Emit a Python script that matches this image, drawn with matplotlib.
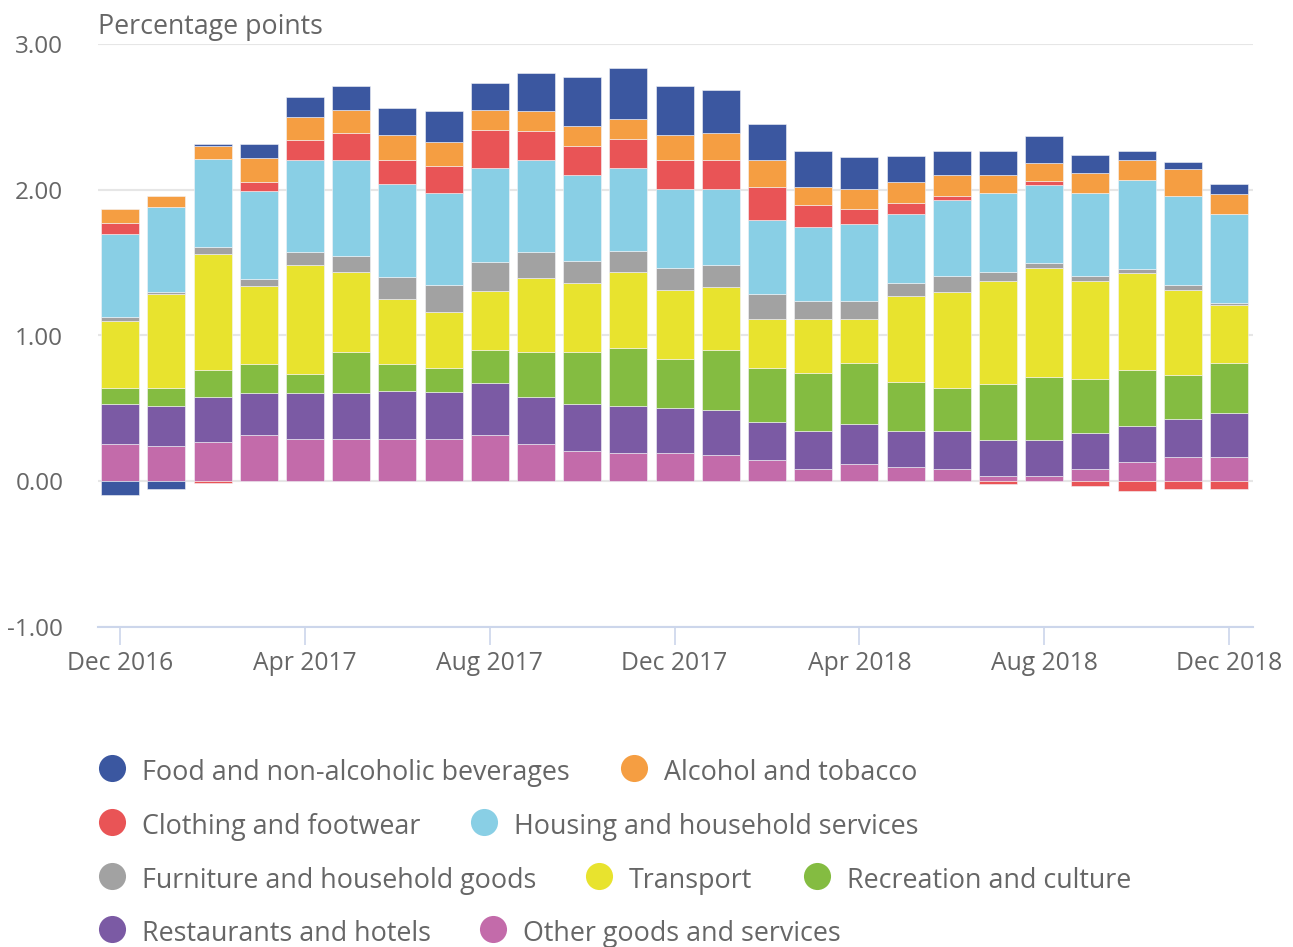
import matplotlib.pyplot as plt
import numpy as np

plt.rcParams['font.family'] = ['Open Sans', 'DejaVu Sans']

months = ['Dec 2016', 'Jan 2017', 'Feb 2017', 'Mar 2017', 'Apr 2017', 'May 2017',
          'Jun 2017', 'Jul 2017', 'Aug 2017', 'Sep 2017', 'Oct 2017', 'Nov 2017',
          'Dec 2017', 'Jan 2018', 'Feb 2018', 'Mar 2018', 'Apr 2018', 'May 2018',
          'Jun 2018', 'Jul 2018', 'Aug 2018', 'Sep 2018', 'Oct 2018', 'Nov 2018',
          'Dec 2018']

names = ['Food and non-alcoholic beverages', 'Alcohol and tobacco',
         'Clothing and footwear', 'Housing and household services',
         'Furniture and household goods', 'Transport', 'Recreation and culture',
         'Restaurants and hotels', 'Other goods and services']

colors = ['#3b57a0', '#f59e42', '#e95456', '#89cfe5', '#a2a2a2',
          '#e8e32e', '#84bc41', '#7b5aa4', '#c36baa']

food = [-0.096, -0.05, 0.016, 0.092, 0.137, 0.164, 0.185, 0.215, 0.185, 0.26, 0.338, 0.354,
        0.336, 0.292, 0.244, 0.247, 0.215, 0.18, 0.169, 0.171, 0.185, 0.123, 0.062, 0.046, 0.064]
alcohol = [0.091, 0.075, 0.092, 0.167, 0.158, 0.158, 0.171, 0.168, 0.139, 0.139, 0.137, 0.139,
           0.171, 0.185, 0.185, 0.123, 0.139, 0.14, 0.139, 0.123, 0.123, 0.137, 0.137, 0.185, 0.139]
clothing = [0.077, 0.0, -0.015, 0.062, 0.137, 0.185, 0.167, 0.185, 0.258, 0.198, 0.201, 0.196,
            0.199, 0.199, 0.228, 0.153, 0.107, 0.075, 0.03, -0.02, 0.03, -0.03, -0.068, -0.05, -0.05]
housing = [0.568, 0.586, 0.601, 0.601, 0.63, 0.664, 0.633, 0.63, 0.646, 0.63, 0.584, 0.571,
           0.539, 0.523, 0.509, 0.509, 0.527, 0.477, 0.523, 0.536, 0.536, 0.569, 0.612, 0.612, 0.612]
furniture = [0.03, 0.014, 0.046, 0.046, 0.089, 0.105, 0.153, 0.182, 0.199, 0.183, 0.151, 0.139,
             0.153, 0.153, 0.166, 0.119, 0.119, 0.091, 0.107, 0.062, 0.032, 0.032, 0.03, 0.032, 0.016]
transport = [0.461, 0.644, 0.799, 0.536, 0.753, 0.552, 0.445, 0.384, 0.402, 0.509, 0.479, 0.523,
             0.475, 0.432, 0.34, 0.37, 0.308, 0.584, 0.66, 0.708, 0.751, 0.676, 0.664, 0.582, 0.399]
recreation = [0.11, 0.123, 0.185, 0.2, 0.125, 0.278, 0.185, 0.169, 0.228, 0.306, 0.354, 0.4,
              0.338, 0.413, 0.37, 0.402, 0.416, 0.34, 0.295, 0.386, 0.43, 0.365, 0.384, 0.308, 0.338]
restaurants = [0.271, 0.276, 0.308, 0.29, 0.32, 0.32, 0.333, 0.322, 0.354, 0.32, 0.322, 0.322,
               0.306, 0.308, 0.26, 0.26, 0.276, 0.244, 0.26, 0.244, 0.244, 0.25, 0.247, 0.26, 0.306]
other = [0.258, 0.24, 0.27, 0.317, 0.288, 0.288, 0.288, 0.288, 0.32, 0.258, 0.208, 0.194,
         0.194, 0.178, 0.146, 0.084, 0.116, 0.1, 0.084, 0.039, 0.039, 0.084, 0.132, 0.164, 0.164]

series = [food, alcohol, clothing, housing, furniture, transport, recreation, restaurants, other]

txt = '#666666'

fig = plt.figure(figsize=(12.93, 9.47), dpi=100)
ax = fig.add_axes([98/1293, 1-627/947, (1253-98)/1293, (627-44)/947])

x = np.arange(len(months))
pos = np.zeros(len(x))
neg = np.zeros(len(x))
# first series sits on top, so stack from the last one up
for vals, c in reversed(list(zip(series, colors))):
    v = np.array(vals)
    base = np.where(v >= 0, pos, neg)
    ax.bar(x, v, 0.82, bottom=base, color=c, edgecolor='#f4f4f8', linewidth=0.4, zorder=3)
    pos += np.where(v >= 0, v, 0)
    neg += np.where(v < 0, v, 0)

ax.set_xlim(-0.48, 24.52)
ax.set_ylim(-1, 3)
ax.set_yticks([-1, 0, 1, 2, 3])
ax.set_yticklabels(['%.2f' % t for t in [-1, 0, 1, 2, 3]])
ax.yaxis.grid(True, color='#e6e6e6', linewidth=1.5, zorder=0)
ax.set_axisbelow(True)
for s in ['top', 'right', 'left']:
    ax.spines[s].set_visible(False)
ax.spines['bottom'].set_color('#ccd6eb')
ax.spines['bottom'].set_linewidth(1.5)
ax.spines['bottom'].set_zorder(4)

ax.set_xticks(x[::4])
ax.set_xticklabels(months[::4])
ax.tick_params(axis='y', length=0, pad=25, labelsize=17.5, labelcolor=txt)
ax.tick_params(axis='x', length=13, width=1.2, color='#ccd6eb', pad=4, labelsize=17.7, labelcolor=txt)

# overlay in pixel coords for title and legend
lax = fig.add_axes([0, 0, 1, 1])
lax.set_xlim(0, 1293)
lax.set_ylim(947, 0)
lax.axis('off')
lax.text(98, 34, 'Percentage points', fontsize=19.3, color=txt, va='baseline', ha='left')

legend_rows = [(768, [(0, 112), (1, 634)]),
               (822, [(2, 112), (3, 484)]),
               (876, [(4, 112), (5, 599), (6, 817)]),
               (929, [(7, 112), (8, 493)])]
for cy, items in legend_rows:
    for i, cx in items:
        lax.plot(cx, cy, 'o', ms=19.5, color=colors[i], mew=0)
        lax.text(cx + 30, cy + 12, names[i], fontsize=19.4, color=txt, va='baseline', ha='left')

fig.savefig('out.png', dpi=100)
